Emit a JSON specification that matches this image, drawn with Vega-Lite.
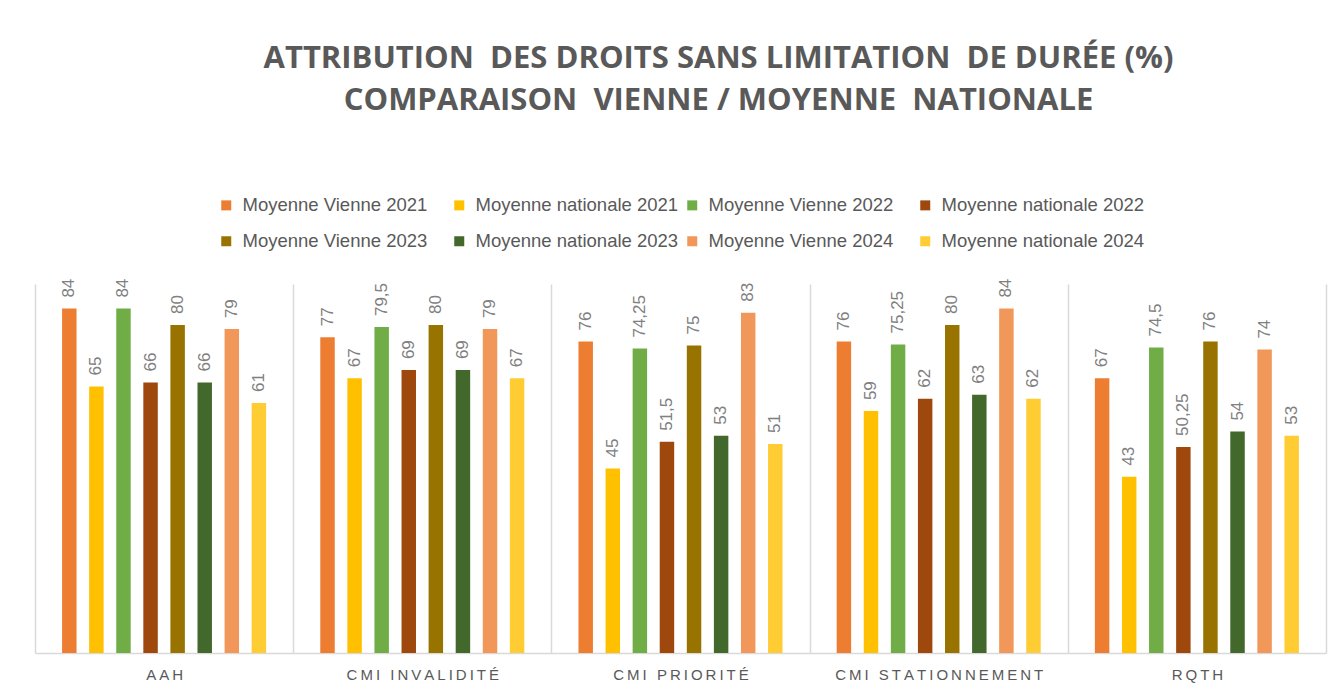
{
  "$schema": "https://vega.github.io/schema/vega-lite/v6.json",
  "autosize": {"type": "none"},
  "padding": {"left": 35, "top": 284, "right": 16, "bottom": 40},
  "width": 1291,
  "height": 369,
  "background": "white",
  "title": {
    "text": ["ATTRIBUTION\u00a0 DES DROITS SANS LIMITATION\u00a0 DE DURÉE (%)", "COMPARAISON\u00a0 VIENNE / MOYENNE\u00a0 NATIONALE"],
    "font": "Open Sans",
    "fontSize": 31,
    "fontWeight": "bold",
    "color": "#595959",
    "lineHeight": 42,
    "anchor": "middle",
    "frame": "group",
    "dx": 38,
    "offset": 79
  },
  "data": {
    "values": [
      {"cat": "AAH", "serie": "Moyenne Vienne 2021", "value": 84, "label": "84"},
      {"cat": "AAH", "serie": "Moyenne nationale 2021", "value": 65, "label": "65"},
      {"cat": "AAH", "serie": "Moyenne Vienne 2022", "value": 84, "label": "84"},
      {"cat": "AAH", "serie": "Moyenne nationale 2022", "value": 66, "label": "66"},
      {"cat": "AAH", "serie": "Moyenne Vienne 2023", "value": 80, "label": "80"},
      {"cat": "AAH", "serie": "Moyenne nationale 2023", "value": 66, "label": "66"},
      {"cat": "AAH", "serie": "Moyenne Vienne 2024", "value": 79, "label": "79"},
      {"cat": "AAH", "serie": "Moyenne nationale 2024", "value": 61, "label": "61"},
      {"cat": "CMI INVALIDITÉ", "serie": "Moyenne Vienne 2021", "value": 77, "label": "77"},
      {"cat": "CMI INVALIDITÉ", "serie": "Moyenne nationale 2021", "value": 67, "label": "67"},
      {"cat": "CMI INVALIDITÉ", "serie": "Moyenne Vienne 2022", "value": 79.5, "label": "79,5"},
      {"cat": "CMI INVALIDITÉ", "serie": "Moyenne nationale 2022", "value": 69, "label": "69"},
      {"cat": "CMI INVALIDITÉ", "serie": "Moyenne Vienne 2023", "value": 80, "label": "80"},
      {"cat": "CMI INVALIDITÉ", "serie": "Moyenne nationale 2023", "value": 69, "label": "69"},
      {"cat": "CMI INVALIDITÉ", "serie": "Moyenne Vienne 2024", "value": 79, "label": "79"},
      {"cat": "CMI INVALIDITÉ", "serie": "Moyenne nationale 2024", "value": 67, "label": "67"},
      {"cat": "CMI PRIORITÉ", "serie": "Moyenne Vienne 2021", "value": 76, "label": "76"},
      {"cat": "CMI PRIORITÉ", "serie": "Moyenne nationale 2021", "value": 45, "label": "45"},
      {"cat": "CMI PRIORITÉ", "serie": "Moyenne Vienne 2022", "value": 74.25, "label": "74,25"},
      {"cat": "CMI PRIORITÉ", "serie": "Moyenne nationale 2022", "value": 51.5, "label": "51,5"},
      {"cat": "CMI PRIORITÉ", "serie": "Moyenne Vienne 2023", "value": 75, "label": "75"},
      {"cat": "CMI PRIORITÉ", "serie": "Moyenne nationale 2023", "value": 53, "label": "53"},
      {"cat": "CMI PRIORITÉ", "serie": "Moyenne Vienne 2024", "value": 83, "label": "83"},
      {"cat": "CMI PRIORITÉ", "serie": "Moyenne nationale 2024", "value": 51, "label": "51"},
      {"cat": "CMI STATIONNEMENT", "serie": "Moyenne Vienne 2021", "value": 76, "label": "76"},
      {"cat": "CMI STATIONNEMENT", "serie": "Moyenne nationale 2021", "value": 59, "label": "59"},
      {"cat": "CMI STATIONNEMENT", "serie": "Moyenne Vienne 2022", "value": 75.25, "label": "75,25"},
      {"cat": "CMI STATIONNEMENT", "serie": "Moyenne nationale 2022", "value": 62, "label": "62"},
      {"cat": "CMI STATIONNEMENT", "serie": "Moyenne Vienne 2023", "value": 80, "label": "80"},
      {"cat": "CMI STATIONNEMENT", "serie": "Moyenne nationale 2023", "value": 63, "label": "63"},
      {"cat": "CMI STATIONNEMENT", "serie": "Moyenne Vienne 2024", "value": 84, "label": "84"},
      {"cat": "CMI STATIONNEMENT", "serie": "Moyenne nationale 2024", "value": 62, "label": "62"},
      {"cat": "RQTH", "serie": "Moyenne Vienne 2021", "value": 67, "label": "67"},
      {"cat": "RQTH", "serie": "Moyenne nationale 2021", "value": 43, "label": "43"},
      {"cat": "RQTH", "serie": "Moyenne Vienne 2022", "value": 74.5, "label": "74,5"},
      {"cat": "RQTH", "serie": "Moyenne nationale 2022", "value": 50.25, "label": "50,25"},
      {"cat": "RQTH", "serie": "Moyenne Vienne 2023", "value": 76, "label": "76"},
      {"cat": "RQTH", "serie": "Moyenne nationale 2023", "value": 54, "label": "54"},
      {"cat": "RQTH", "serie": "Moyenne Vienne 2024", "value": 74, "label": "74"},
      {"cat": "RQTH", "serie": "Moyenne nationale 2024", "value": 53, "label": "53"}
    ]
  },
  "encoding": {
    "x": {
      "field": "cat",
      "type": "nominal",
      "sort": null,
      "scale": {"paddingInner": 0, "paddingOuter": 0},
      "axis": {
        "title": null,
        "labelAngle": 0,
        "labelFont": "Liberation Sans",
        "labelFontSize": 15,
        "labelColor": "#595959",
        "labelPadding": 14,
        "labelLimit": 0,
        "labelExpr": "join(split(replace(datum.label, ' ', '\u00a0'), ''), '\u2009')",
        "ticks": false,
        "tickBand": "extent",
        "grid": true,
        "gridColor": "#d9d9d9",
        "gridWidth": 1.5,
        "domainColor": "#d9d9d9",
        "domainWidth": 1.5
      }
    },
    "xOffset": {
      "field": "serie",
      "type": "nominal",
      "sort": null,
      "scale": {"paddingInner": 0.466, "paddingOuter": 1.145}
    },
    "y": {
      "field": "value",
      "type": "quantitative",
      "scale": {"domain": [0, 90]},
      "axis": null
    }
  },
  "layer": [
    {
      "mark": {"type": "bar"},
      "encoding": {
        "color": {
          "field": "serie",
          "type": "nominal",
          "sort": null,
          "scale": {
            "domain": ["Moyenne Vienne 2021", "Moyenne nationale 2021", "Moyenne Vienne 2022", "Moyenne nationale 2022", "Moyenne Vienne 2023", "Moyenne nationale 2023", "Moyenne Vienne 2024", "Moyenne nationale 2024"],
            "range": ["#ED7D31", "#FFC000", "#70AD47", "#9E480E", "#997300", "#43682B", "#F1975A", "#FFCD33"]
          },
          "legend": {
            "title": null,
            "orient": "none",
            "legendX": 182,
            "legendY": -88,
            "direction": "horizontal",
            "columns": 4,
            "gridAlign": "all",
            "columnPadding": 4,
            "rowPadding": 17,
            "symbolType": "square",
            "symbolSize": 100,
            "symbolStrokeWidth": 0,
            "labelOffset": 7,
            "labelFont": "Liberation Sans",
            "labelFontSize": 18.5,
            "labelColor": "#595959",
            "labelLimit": 400
          }
        }
      }
    },
    {
      "mark": {
        "type": "text",
        "angle": 270,
        "align": "left",
        "baseline": "middle",
        "dx": 11,
        "font": "Liberation Sans",
        "fontSize": 17,
        "color": "#808080"
      },
      "encoding": {
        "text": {"field": "label"}
      }
    }
  ],
  "config": {
    "view": {"stroke": null}
  }
}
